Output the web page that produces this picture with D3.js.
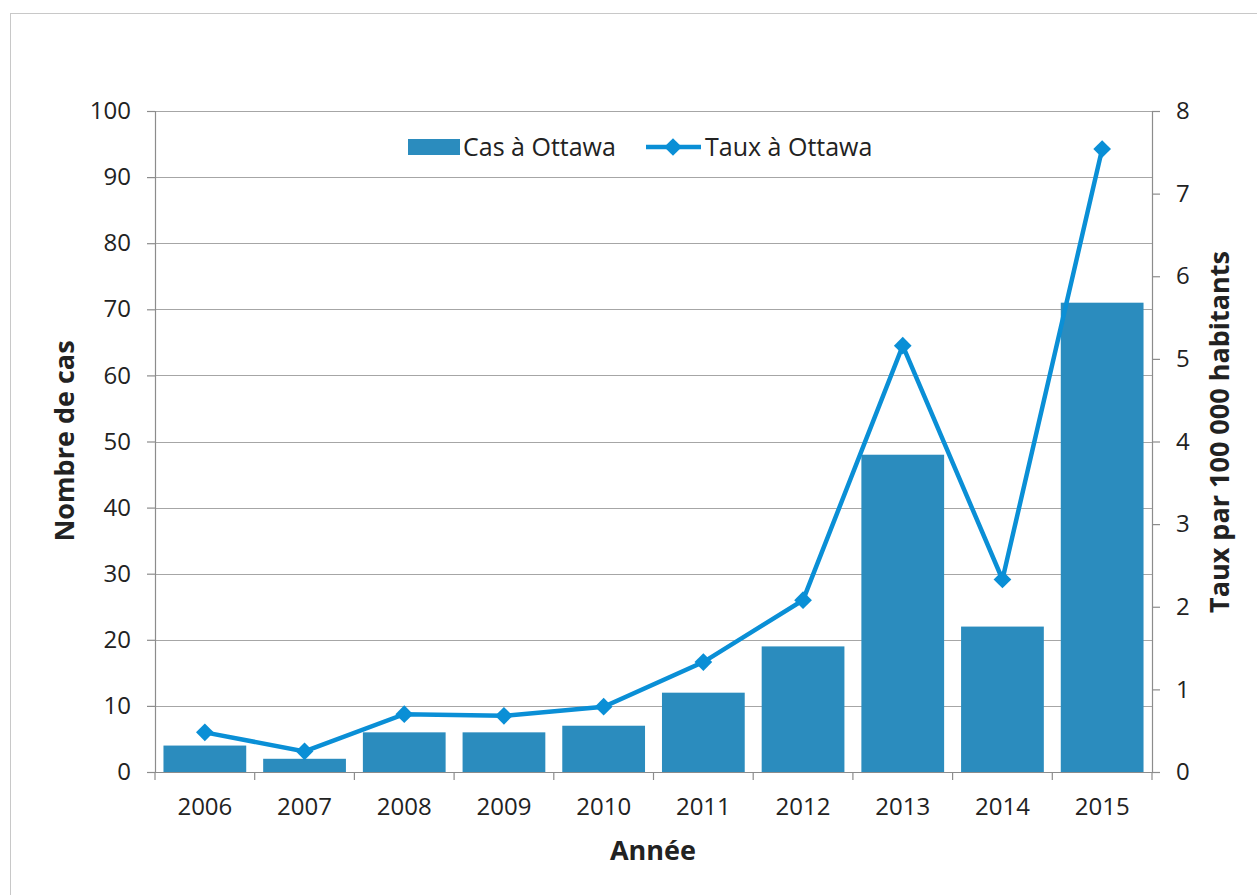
<!DOCTYPE html>
<html>
<head>
<meta charset="utf-8">
<script src="https://cdnjs.cloudflare.com/ajax/libs/d3/7.8.5/d3.min.js"></script>
<style>
  body { margin: 0; background: #fff; }
  svg text { font-family: "Open Sans", Lato, sans-serif; fill: #222; }
</style>
</head>
<body>
<svg id="chart" width="1257" height="895"></svg>
<script>
var years = ["2006", "2007", "2008", "2009", "2010", "2011", "2012", "2013", "2014", "2015"];
var cases = [4, 2, 6, 6, 7, 12, 19, 48, 22, 71];
var rates = [0.48, 0.25, 0.70, 0.68, 0.79, 1.33, 2.08, 5.16, 2.33, 7.54];
var leftTicks = [0, 10, 20, 30, 40, 50, 60, 70, 80, 90, 100];
var rightTicks = [0, 1, 2, 3, 4, 5, 6, 7, 8];

var svg = d3.select("#chart");
var margin = { left: 155, right: 1152, top: 111, bottom: 772 };

var barColor = "#2b8cbe", lineColor = "#0a8fd6", gridColor = "#a6a6a6", axisColor = "#8c8c8c";

// outer frame
svg.append("rect")
    .attr("x", 10.5).attr("y", 13.5)
    .attr("width", 1260).attr("height", 900)
    .attr("fill", "none").attr("stroke", "#c8c8c8");

var x = d3.scaleBand().domain(years).range([margin.left, margin.right]).paddingInner(0.17).paddingOuter(0.085);
var yL = d3.scaleLinear().domain([0, 100]).range([margin.bottom, margin.top]);
var yR = d3.scaleLinear().domain([0, 8]).range([margin.bottom, margin.top]);

// gridlines
svg.append("g").selectAll("line")
    .data(leftTicks.slice(1))
    .enter().append("line")
    .attr("x1", margin.left).attr("x2", margin.right)
    .attr("y1", function (d) { return Math.round(yL(d)) + 0.5; })
    .attr("y2", function (d) { return Math.round(yL(d)) + 0.5; })
    .attr("stroke", gridColor).attr("stroke-width", 1.2);

// bars
svg.append("g").selectAll("rect")
    .data(cases)
    .enter().append("rect")
    .attr("x", function (d, i) { return x(years[i]); })
    .attr("y", function (d) { return yL(d); })
    .attr("width", x.bandwidth())
    .attr("height", function (d) { return yL(0) - yL(d); })
    .attr("fill", barColor);

// left axis
var gL = svg.append("g").attr("transform", "translate(" + margin.left + ",0)")
    .call(d3.axisLeft(yL).tickValues(leftTicks).tickSize(8).tickPadding(16));
// right axis
var gR = svg.append("g").attr("transform", "translate(" + margin.right + ",0)")
    .call(d3.axisRight(yR).tickValues(rightTicks).tickSize(8).tickPadding(16));
// bottom axis: ticks at band boundaries
var bounds = years.map(function (d) { return x(d) - x.step() * x.paddingInner() / 2; });
bounds.push(margin.right);
var gB = svg.append("g").attr("transform", "translate(0," + margin.bottom + ")")
    .call(d3.axisBottom(x).tickSize(0).tickPadding(26));
gB.selectAll(".bt").data(bounds).enter().append("line")
    .attr("class", "bt")
    .attr("x1", function (d) { return d; }).attr("x2", function (d) { return d; })
    .attr("y1", 0).attr("y2", 8)
    .attr("stroke", axisColor).attr("stroke-width", 1.2);

[gL, gR, gB].forEach(function (g) {
    g.selectAll(".domain").attr("stroke", axisColor).attr("stroke-width", 1.2);
    g.selectAll(".tick line").attr("stroke", axisColor).attr("stroke-width", 1.2);
    g.selectAll("text").style("font-size", "24px").attr("fill", "#222");
});

// rate line
var line = d3.line()
    .x(function (d, i) { return x(years[i]) + x.bandwidth() / 2; })
    .y(function (d) { return yR(d); });
svg.append("path")
    .datum(rates)
    .attr("d", line)
    .attr("fill", "none")
    .attr("stroke", lineColor)
    .attr("stroke-width", 4.5)
    .attr("stroke-linejoin", "miter");

var diamond = d3.symbol().type(d3.symbolDiamond2).size(200);
svg.append("g").selectAll("path")
    .data(rates)
    .enter().append("path")
    .attr("d", diamond)
    .attr("transform", function (d, i) { return "translate(" + (x(years[i]) + x.bandwidth() / 2) + "," + yR(d) + ")"; })
    .attr("fill", lineColor);

// legend
var legend = svg.append("g");
legend.append("rect").attr("x", 408).attr("y", 139).attr("width", 52).attr("height", 16).attr("fill", barColor);
legend.append("text").attr("x", 463).attr("y", 156).style("font-size", "25px").text("Cas à Ottawa");
legend.append("line").attr("x1", 646).attr("x2", 701).attr("y1", 147).attr("y2", 147)
    .attr("stroke", lineColor).attr("stroke-width", 4.5);
legend.append("path").attr("d", diamond).attr("transform", "translate(673,147)").attr("fill", lineColor);
legend.append("text").attr("x", 705).attr("y", 156).style("font-size", "25px").text("Taux à Ottawa");

// axis titles
svg.append("text")
    .attr("transform", "translate(74,441) rotate(-90)")
    .attr("text-anchor", "middle")
    .style("font-size", "27px").style("font-weight", "bold")
    .text("Nombre de cas");
svg.append("text")
    .attr("x", 653).attr("y", 860)
    .attr("text-anchor", "middle")
    .style("font-size", "27px").style("font-weight", "bold")
    .text("Année");
svg.append("text")
    .attr("transform", "translate(1229,432) rotate(-90)")
    .attr("text-anchor", "middle")
    .style("font-size", "27px").style("font-weight", "bold")
    .text("Taux par 100 000 habitants");
</script>
</body>
</html>
